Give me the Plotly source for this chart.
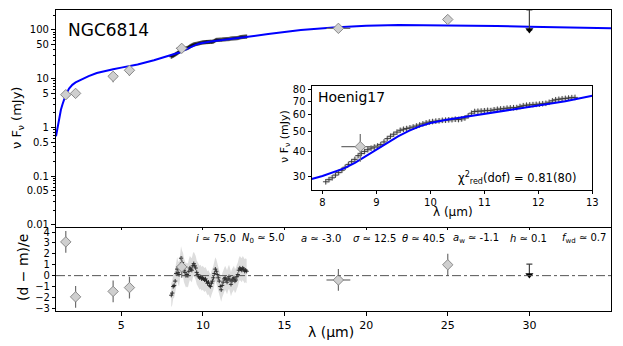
"""SED fit of NGC6814 with residual panel and Hoenig17 spectrum inset."""

import math

import plotly.graph_objects as go

WIDTH, HEIGHT = 623, 346

# model SED (mJy) vs wavelength (um)
model_wl = [1.0, 1.1, 1.2, 1.3, 1.4, 1.5, 1.6, 1.8, 2.0, 2.2, 2.5, 3.0, 3.5, 4.0,
            4.5, 5.0, 6.0, 7.0, 7.5, 7.8, 8.0, 8.2, 8.4, 8.6, 8.8, 9.0, 9.2, 9.4,
            9.6, 9.8, 10.0, 10.3, 10.6, 11.0, 11.5, 12.0, 12.5, 13.0, 14.0, 15.0,
            16.0, 18.0, 20.0, 22.0, 25.0, 28.0, 30.0, 32.0, 35.0]
model_flux = [0.66, 1.05, 1.6, 2.3, 3.0, 3.9, 4.7, 6.3, 7.5, 8.4, 9.5, 11.3, 13.1, 14.5,
              15.6, 16.9, 19.6, 24.0, 27.0, 29.2, 30.2, 31.5, 32.9, 35.0, 37.8, 40.8, 43.8, 47.2,
              50.2, 52.8, 54.8, 56.9, 58.5, 60.7, 63.5, 66.3, 70.0, 74.5, 83.0, 92.0,
              100.0, 113.0, 122.0, 127.0, 126.0, 121.0, 117.0, 113.0, 108.0]

# Hoenig17 mid-IR spectrum
spec_wl = [8.06, 8.12, 8.18, 8.24, 8.30, 8.36, 8.42, 8.48, 8.54, 8.60, 8.66, 8.72, 8.78,
           8.84, 8.90, 8.96, 9.02, 9.08, 9.14, 9.20, 9.26, 9.32, 9.38, 9.44, 9.50, 9.56,
           9.62, 9.68, 9.74, 9.80, 9.86, 9.92, 9.98, 10.04, 10.10, 10.16, 10.22, 10.28,
           10.34, 10.40, 10.46, 10.52, 10.58, 10.64, 10.70, 10.76, 10.82, 10.88, 10.94,
           11.00, 11.06, 11.12, 11.18, 11.24, 11.30, 11.36, 11.42, 11.48, 11.54, 11.60,
           11.66, 11.72, 11.78, 11.84, 11.90, 11.96, 12.02, 12.08, 12.14, 12.20, 12.26,
           12.32, 12.38, 12.44, 12.50, 12.56, 12.62, 12.68]
spec_flux = [28.3, 29.0, 29.6, 30.5, 31.4, 32.2, 33.3, 34.4, 35.5, 36.4, 38.0, 38.9, 39.8,
             40.6, 41.3, 41.8, 42.3, 43.0, 44.3, 46.0, 47.2, 48.3, 49.5, 50.5, 51.1, 51.5,
             51.9, 52.4, 53.0, 53.6, 54.3, 54.9, 55.4, 55.7, 56.0, 56.2, 56.5, 56.6,
             56.8, 56.9, 57.2, 57.0, 57.4, 58.0, 59.4, 61.2, 62.4, 62.6, 62.7,
             62.9, 63.2, 63.0, 63.6, 64.0, 64.2, 64.4, 64.8, 65.0, 65.1, 65.2,
             66.0, 66.6, 67.0, 67.2, 67.4, 67.6, 67.8, 68.1, 68.4, 69.2, 70.4,
             71.2, 71.6, 72.0, 72.3, 72.6, 72.9, 73.1]
spec_err = [0.9, 0.9, 0.9, 0.9, 1.0, 1.0, 1.0, 1.0, 1.1, 1.1, 1.1, 1.1, 1.1,
            1.1, 1.1, 1.2, 1.2, 1.2, 1.2, 1.2, 1.3, 1.3, 1.3, 1.3, 1.3, 1.3,
            1.4, 1.4, 1.4, 1.4, 1.4, 1.4, 1.5, 1.5, 1.5, 1.5, 1.5, 1.5,
            1.5, 1.5, 1.6, 1.6, 1.6, 1.6, 1.6, 1.6, 1.6, 1.6, 1.6,
            1.6, 1.6, 1.6, 1.6, 1.6, 1.6, 1.6, 1.6, 1.6, 1.6, 1.6,
            1.6, 1.6, 1.6, 1.6, 1.6, 1.7, 1.7, 1.7, 1.7, 1.7, 1.7,
            1.7, 1.7, 1.7, 1.7, 1.7, 1.7, 1.7]
spec_resid = [-1.8, -1.6, -1.0, -0.9, -0.5, 0.2, 0.6, 0.3, 0.1, 0.8, 1.6, 1.2, 1.0,
              0.5, 0.3, 0.0, 0.1, 0.0, 0.4, 0.7, 0.6, 0.5, 0.9, 1.1, 0.9, 0.7,
              0.3, 0.1, -0.1, -0.2, -0.1, -0.3, -0.2, -0.3, -0.4, -0.3, -0.5, -0.7,
              -0.6, -0.9, -1.0, -0.7, -0.5, -0.2, 0.2, 0.6, 0.4, 0.1, -0.2,
              -0.5, -1.0, -1.3, -0.9, -0.6, -0.3, -0.2, -0.4, -0.6, -0.3, -0.1,
              -0.4, -0.8, -0.5, -0.3, -0.2, -0.5, -0.4, -0.1, 0.1, 0.5, 0.7,
              0.6, 0.5, 0.7, 0.6, 0.4, 0.5, 0.4]
RESID_BAND = 1.1

# photometry
phot_wl = [1.6, 2.2, 4.5, 5.5, 8.7, 18.3, 25.0]
phot_wl_err = [0.0, 0.0, 0.0, 0.0, 0.35, 0.73, 0.0]
phot_flux = [4.7, 5.0, 11.2, 14.9, 42.0, 108.0, 164.0]
phot_err = [0.3, 0.4, 2.7, 3.5, 6.5, 8.0, 35.0]
phot_resid = [3.1, -1.95, -1.45, -1.1, 0.8, -0.4, 1.0]
phot_resid_err = [1.0, 1.0, 1.0, 1.0, 1.0, 1.0, 1.0]

# upper limit
ulim_wl = [30.0]
ulim_flux = [100.0]
ulim_bar = [158.0]
ulim_resid = [0.05]
ulim_resid_bar = [1.0]

main_ticks = [0.01, 0.05, 0.1, 0.5, 1, 5, 10, 50, 100]
main_tick_text = ["0.01", "0.05", "0.1", "0.5", "1", "5", "10", "50", "100"]
minor_ticks = [m * 10 ** e for e in range(-2, 3) for m in range(2, 10)]
lam_ticks = [5, 10, 15, 20, 25, 30]
inset_y_ticks = [30, 40, 50, 60, 70, 80]

FONT = "DejaVu Sans"
BAND = "rgba(170,170,170,0.45)"
DIAMOND = dict(symbol="diamond", size=8, color="#cfcfcf", line=dict(color="#8a8a8a", width=1))
ERRCOL = "#6e6e6e"


def fx(px):
    return px / WIDTH


def fy(py):
    return 1 - py / HEIGHT


def spectrum_traces(xa, ya, msize, mcolor):
    upper = [f + e for f, e in zip(spec_flux, spec_err)]
    lower = [f - e for f, e in zip(spec_flux, spec_err)]
    return [
        go.Scatter(x=spec_wl, y=upper, mode="lines", line=dict(width=0),
                   xaxis=xa, yaxis=ya, hoverinfo="skip"),
        go.Scatter(x=spec_wl, y=lower, mode="lines", line=dict(width=0),
                   fill="tonexty", fillcolor=BAND, xaxis=xa, yaxis=ya, hoverinfo="skip"),
        go.Scatter(x=spec_wl, y=spec_flux, mode="markers", xaxis=xa, yaxis=ya,
                   marker=dict(symbol="cross-thin", size=msize,
                               line=dict(color=mcolor, width=0.9))),
    ]


def photometry_trace(xa, ya, yvals, yerr):
    return go.Scatter(
        x=phot_wl, y=yvals, mode="markers", xaxis=xa, yaxis=ya, marker=DIAMOND,
        error_y=dict(type="data", array=yerr, color=ERRCOL, thickness=1.2, width=0),
        error_x=dict(type="data", array=phot_wl_err, color=ERRCOL, thickness=1.2, width=0),
    )


def ulim_trace(xa, ya, yvals, bar):
    return go.Scatter(
        x=ulim_wl, y=yvals, mode="markers", xaxis=xa, yaxis=ya,
        marker=dict(symbol="triangle-down", size=7, color="black"),
        error_y=dict(type="data", symmetric=False, array=bar, arrayminus=[0],
                     color="#444444", thickness=1.2, width=3),
    )


def model_trace(xa, ya):
    return go.Scatter(x=model_wl, y=model_flux, mode="lines", xaxis=xa, yaxis=ya,
                      line=dict(color="#0000ff", width=2))


fig = go.Figure()

# main SED panel
for tr in spectrum_traces("x", "y", 3, "#111111"):
    fig.add_trace(tr)
fig.add_trace(model_trace("x", "y"))
fig.add_trace(photometry_trace("x", "y", phot_flux, phot_err))
fig.add_trace(ulim_trace("x", "y", ulim_flux, ulim_bar))

# residual panel
res_hi = [r + RESID_BAND for r in spec_resid]
res_lo = [r - RESID_BAND for r in spec_resid]
fig.add_trace(go.Scatter(x=spec_wl, y=res_hi, mode="lines", line=dict(width=0),
                         xaxis="x2", yaxis="y2", hoverinfo="skip"))
fig.add_trace(go.Scatter(x=spec_wl, y=res_lo, mode="lines", line=dict(width=0),
                         fill="tonexty", fillcolor="rgba(180,180,180,0.45)",
                         xaxis="x2", yaxis="y2", hoverinfo="skip"))
fig.add_trace(go.Scatter(x=spec_wl, y=spec_resid, mode="markers", xaxis="x2", yaxis="y2",
                         marker=dict(symbol="cross-thin", size=3,
                                     line=dict(color="#222222", width=0.9))))
fig.add_trace(photometry_trace("x2", "y2", phot_resid, phot_resid_err))
fig.add_trace(ulim_trace("x2", "y2", ulim_resid, ulim_resid_bar))

# inset
for tr in spectrum_traces("x3", "y3", 4, "#333333"):
    fig.add_trace(tr)
fig.add_trace(model_trace("x3", "y3"))
fig.add_trace(photometry_trace("x3", "y3", phot_flux, phot_err))

fig.add_shape(type="line", xref="x2 domain", yref="y2", x0=0, x1=1, y0=0, y1=0,
              line=dict(color="#555555", width=1, dash="dashdot"), layer="above")

axis_common = dict(showline=True, linecolor="black", linewidth=1.2, mirror=True,
                   showgrid=False, zeroline=False, ticks="outside", tickcolor="black",
                   automargin=False,
                   tickfont=dict(family=FONT, size=10, color="black"))

fig.update_layout(
    template="none",
    width=WIDTH,
    height=HEIGHT,
    margin=dict(l=0, r=0, t=0, b=0, pad=0),
    paper_bgcolor="white",
    plot_bgcolor="white",
    showlegend=False,
    font=dict(family=FONT, color="black"),
    xaxis=dict(axis_common, domain=[fx(56), fx(611)], anchor="y", range=[1, 35],
               tickvals=lam_ticks, showticklabels=False, ticklen=2),
    yaxis=dict(axis_common, domain=[fy(226.5), fy(10)], anchor="x", type="log",
               range=[math.log10(0.0093), math.log10(257)], tickvals=main_ticks,
               ticktext=main_tick_text, ticklen=4,
               minor=dict(tickvals=minor_ticks, ticks="outside", ticklen=2,
                          tickcolor="black")),
    xaxis2=dict(axis_common, domain=[fx(56), fx(611)], anchor="y2", range=[1, 35],
                tickvals=lam_ticks, ticklen=4,
                tickfont=dict(family=FONT, size=11, color="black")),
    yaxis2=dict(axis_common, domain=[fy(311), fy(228.3)], anchor="x2",
                range=[-3.25, 4.35], tick0=0, dtick=1, ticklen=3),
    xaxis3=dict(axis_common, domain=[fx(311.7), fx(592.3)], anchor="y3",
                range=[7.8, 13.0], dtick=1, tick0=8, ticklen=3),
    yaxis3=dict(axis_common, domain=[fy(190), fy(85.7)], anchor="x3", type="log",
                range=[math.log10(25.8), math.log10(83.4)], tickvals=inset_y_ticks,
                ticklen=3),
)


def note(text, x, y, size, xanchor="left", angle=0):
    fig.add_annotation(text=text, xref="paper", yref="paper", x=fx(x), y=fy(y),
                       xanchor=xanchor, yanchor="middle", showarrow=False,
                       textangle=angle, font=dict(family=FONT, size=size, color="black"))


note("NGC6814", 66, 30, 17)
note("Hoenig17", 316, 97, 14)
note("χ<sup>2</sup><sub>red</sub>(dof) = 0.81(80)", 579, 178, 11.5, xanchor="right")
note("ν F<sub>ν</sub> (mJy)", 17, 118, 13, xanchor="center", angle=-90)
note("ν F<sub>ν</sub> (mJy)", 285, 137, 11, xanchor="center", angle=-90)
note("λ (μm)", 453, 212, 12, xanchor="center")
note("(d − m)/e", 23, 268, 14, xanchor="center", angle=-90)
note("λ (μm)", 331, 332, 14, xanchor="center")

params = [
    ("<i>i</i> ≃ 75.0", 194),
    ("<i>N</i><sub>0</sub> ≃ 5.0", 240),
    ("<i>a</i> ≃ -3.0", 299),
    ("<i>σ</i> ≃ 12.5", 351),
    ("<i>θ</i> ≃ 40.5", 400),
    ("<i>a</i><sub>w</sub> ≃ -1.1", 451),
    ("<i>h</i> ≃ 0.1", 508),
    ("<i>f</i><sub>wd</sub> ≃ 0.7", 560),
]
for text, xpos in params:
    note(text, xpos, 238, 10)

# drop the default page margin so the figure sits at the window's top-left corner
fig.write_html(
    "out.html",
    config={"displayModeBar": False},
    post_script="document.body.style.margin='0';document.body.style.overflow='hidden';",
)
